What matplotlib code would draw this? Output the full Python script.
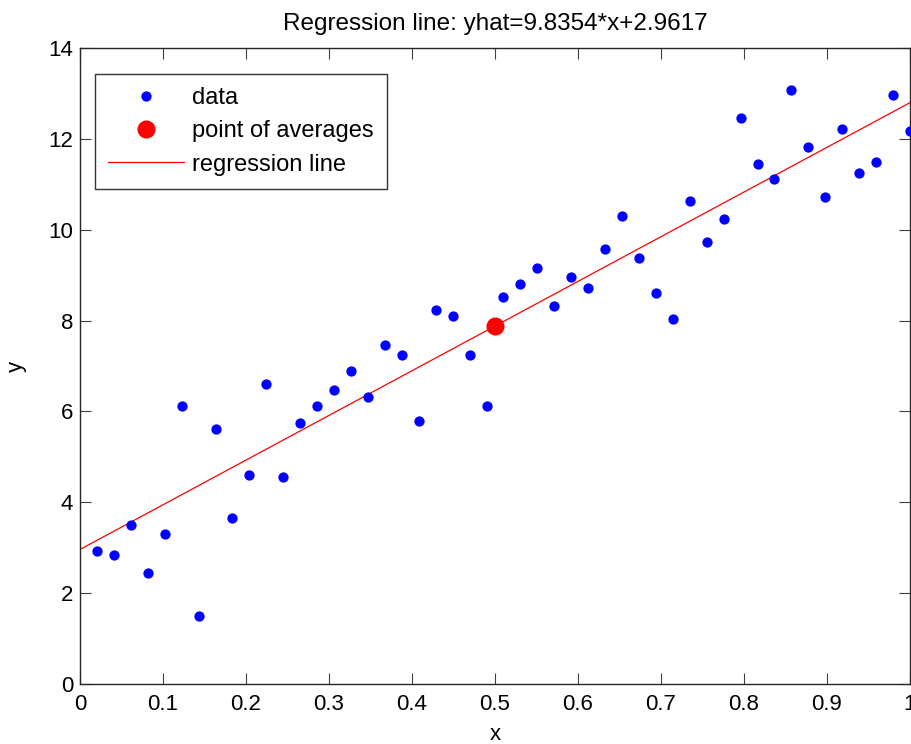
import matplotlib
matplotlib.use("Agg")
import matplotlib.pyplot as plt

plt.rcParams['font.family'] = ['Liberation Sans', 'DejaVu Sans']

x_data = [0.0204, 0.0408, 0.0612, 0.0816, 0.1020, 0.1224, 0.1429, 0.1633, 0.1837, 0.2041,
          0.2245, 0.2449, 0.2653, 0.2857, 0.3061, 0.3265, 0.3469, 0.3673, 0.3878, 0.4082,
          0.4286, 0.4490, 0.4694, 0.4898, 0.5102, 0.5306, 0.5510, 0.5714, 0.5918, 0.6122,
          0.6327, 0.6531, 0.6735, 0.6939, 0.7143, 0.7347, 0.7551, 0.7755, 0.7959, 0.8163,
          0.8367, 0.8571, 0.8776, 0.8980, 0.9184, 0.9388, 0.9592, 0.9796, 1.0000]
y_data = [2.93, 2.85, 3.50, 2.44, 3.30, 6.11, 1.50, 5.62, 3.66, 4.59,
          6.60, 4.56, 5.74, 6.11, 6.48, 6.89, 6.32, 7.46, 7.25, 5.78,
          8.23, 8.11, 7.25, 6.11, 8.51, 8.80, 9.16, 8.31, 8.96, 8.72,
          9.58, 10.31, 9.37, 8.60, 8.03, 10.63, 9.74, 10.23, 12.47, 11.45,
          11.12, 13.08, 11.81, 10.72, 12.22, 11.25, 11.49, 12.96, 12.18]

avg_x = 0.5
avg_y = 7.8794

slope = 9.8354
intercept = 2.9617
line_x = [0.0, 1.0]
line_y = [intercept + slope * v for v in line_x]

x_ticks = [0, 0.1, 0.2, 0.3, 0.4, 0.5, 0.6, 0.7, 0.8, 0.9, 1]
x_ticklabels = ['0', '0.1', '0.2', '0.3', '0.4', '0.5', '0.6', '0.7', '0.8', '0.9', '1']
y_ticks = [0, 2, 4, 6, 8, 10, 12, 14]

fig = plt.figure(figsize=(9.12, 7.44), dpi=100)
ax = fig.add_axes([80/912, 60/744, 830/912, 636/744])

fs = 16
ax.plot(x_data, y_data, 'o', color='#0000ff', markersize=7.4, markeredgewidth=0,
        label='data', clip_on=False, zorder=3)
ax.plot([avg_x], [avg_y], 'o', color='#ff0000', markersize=13, markeredgewidth=0,
        label='point of averages', zorder=4)
ax.plot(line_x, line_y, '-', color='#ff0000', linewidth=0.9, label='regression line', zorder=2)

ax.set_xlim(0, 1)
ax.set_ylim(0, 14)
ax.set_xticks(x_ticks)
ax.set_xticklabels(x_ticklabels)
ax.set_yticks(y_ticks)
ax.tick_params(direction='in', length=8, width=0.8, top=True, right=True,
               labelsize=fs, color='#404040')
ax.tick_params(axis='x', pad=7)
ax.tick_params(axis='y', pad=5)
for s in ax.spines.values():
    s.set_linewidth(1.0)
    s.set_color('#262626')

ax.set_title('Regression line: yhat=9.8354*x+2.9617', fontsize=17.5, pad=13)
ax.set_xlabel('x', fontsize=fs, labelpad=7)
ax.set_ylabel('y', fontsize=fs, labelpad=15)

leg = ax.legend(loc='upper left', bbox_to_anchor=(15/830, (684-74)/636),
                borderaxespad=0, fontsize=17, handlelength=3.2, handletextpad=0.36,
                labelspacing=0.48, borderpad=0.55, fancybox=False, frameon=True,
                numpoints=1)
leg.get_frame().set_edgecolor('black')
leg.get_frame().set_linewidth(1.0)

fig.savefig('out.png', dpi=100)
